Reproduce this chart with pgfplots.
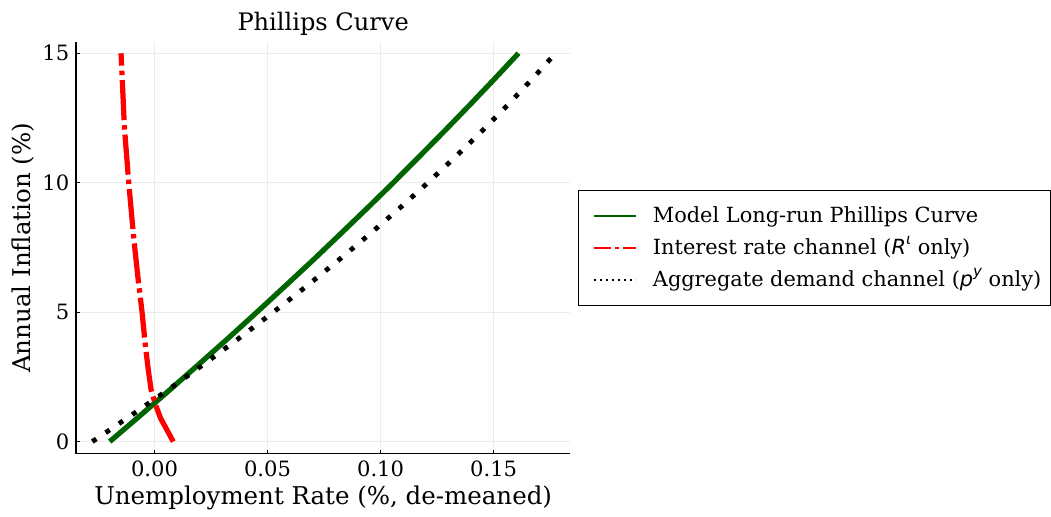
\documentclass[border=0pt]{standalone}
\usepackage{fontspec}
\setmainfont{DejaVu Serif}
\newfontfamily\dvs{DejaVu Sans}
\usepackage{pgfplots}
\pgfplotsset{compat=1.18}
\definecolor{pcgreen}{HTML}{006400}
\definecolor{pcred}{HTML}{FF0000}

\begin{document}
\begin{tikzpicture}
\begin{axis}[
  scale only axis, width=246pt, height=205pt,
  xmin=-0.0346, xmax=0.1838, ymin=-0.465, ymax=15.43,
  axis x line*=bottom, axis y line*=left,
  axis line style={black, line width=0.8pt, -},
  xtick={0,0.05,0.1,0.15}, xticklabels={0.00,0.05,0.10,0.15},
  ytick={0,5,10,15},
  tick align=inside, major tick length=2pt, tick style={black, line width=0.5pt},
  grid=major, grid style={gray!15, line width=0.6pt},
  /pgf/number format/assume math mode=true,
  tick label style={font=\fontsize{10.5}{12}\selectfont},
  label style={font=\fontsize{12.2}{14}\selectfont},
  xlabel style={yshift=2.5pt},
  ylabel style={yshift=-3pt},
  title style={font=\fontsize{12}{13}\selectfont, yshift=-6pt},
  title={Phillips Curve},
  xlabel={Unemployment Rate (\%, de-meaned)},
  ylabel={Annual Inflation (\%)},
  legend style={at={(1,0.5)}, anchor=west, xshift=4pt, draw=black, line width=0.6pt,
    font=\fontsize{10.4}{12}\selectfont, inner xsep=2.5pt, inner ysep=6pt,
    row sep=2.5pt, cells={anchor=west}},
  legend image code/.code={\path[draw=none] (0pt,0pt) -- (32.5pt,0pt); \draw[#1] (5pt,0pt) -- (26pt,0pt);},
]
% green: model long-run curve
\addplot[pcgreen, line width=2.6pt, forget plot] coordinates {
  (-0.0198,0) (-0.0064,1) (0.0068,2) (0.0198,3) (0.0327,4) (0.0453,5)
  (0.0577,6) (0.0700,7) (0.0820,8) (0.0939,9) (0.1056,10) (0.1170,11)
  (0.1283,12) (0.1394,13) (0.1503,14) (0.1610,15)
};
% red: interest rate channel
\addplot[pcred, line width=2.6pt, dash pattern=on 20pt off 2.5pt on 2.2pt off 2.5pt, forget plot] coordinates {
  (0.0083,0) (0.0052,0.5) (0.0027,0.9) (0.0012,1.25) (0,1.55) (-0.0015,2.0)
  (-0.0028,2.8) (-0.0040,3.68) (-0.0055,5.0) (-0.0074,6.4) (-0.0092,7.88)
  (-0.0114,10.0) (-0.0133,12.14) (-0.0148,15)
};
% black: aggregate demand channel
\addplot[black, line width=2.4pt, dash pattern=on 2.4pt off 5.6pt, forget plot] coordinates {
  (-0.0275,0) (-0.0105,1) (0.0060,2) (0.0220,3) (0.0375,4) (0.0526,5)
  (0.0672,6) (0.0813,7) (0.0950,8) (0.1082,9) (0.1209,10) (0.1331,11)
  (0.1449,12) (0.1562,13) (0.1670,14) (0.1774,15)
};
\addlegendimage{pcgreen, line width=1pt}
\addlegendentry{Model Long-run Phillips Curve}
\addlegendimage{pcred, line width=1pt, dash pattern=on 8.5pt off 2pt on 2pt off 2pt}
\addlegendentry{Interest rate channel ({\dvs\itshape R}\smash{\raisebox{0.9ex}{\dvs\itshape\fontsize{7.5}{8}\selectfont ι}} only)}
\addlegendimage{black, line width=1pt, dash pattern=on 1pt off 2pt}
\addlegendentry{Aggregate demand channel ({\dvs\itshape p}\smash{\raisebox{0.9ex}{\dvs\itshape\fontsize{7.5}{8}\selectfont y}} only)}
\end{axis}
\path ([yshift=21pt]current axis.north) ([xshift=-38pt]current axis.west);
\end{tikzpicture}
\end{document}
